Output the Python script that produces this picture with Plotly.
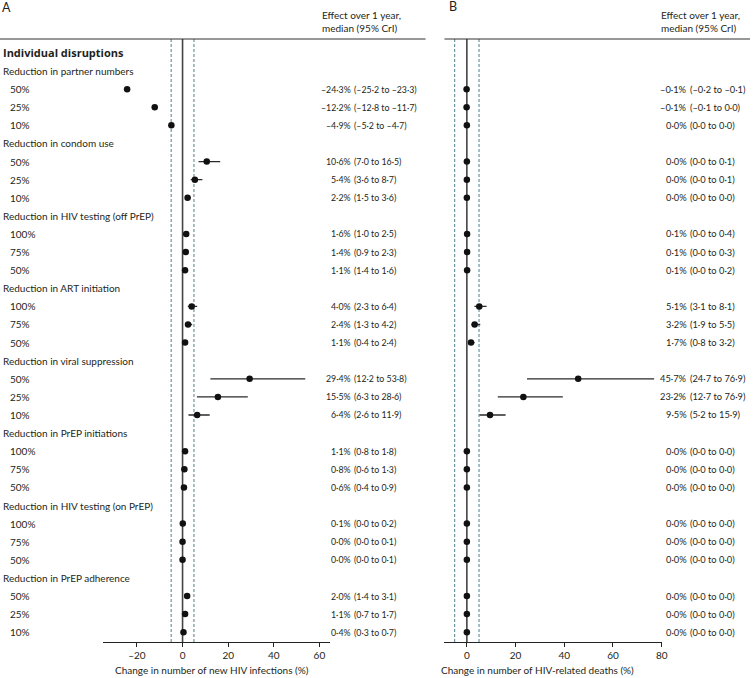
import plotly.graph_objects as go

W, H = 756, 678

# ---------------- data ----------------
groups = [
    "Reduction in partner numbers",
    "Reduction in condom use",
    "Reduction in HIV testing (off PrEP)",
    "Reduction in ART initiation",
    "Reduction in viral suppression",
    "Reduction in PrEP initiations",
    "Reduction in HIV testing (on PrEP)",
    "Reduction in PrEP adherence",
]
levels = [
    ["50%", "25%", "10%"],
    ["50%", "25%", "10%"],
    ["100%", "75%", "50%"],
    ["100%", "75%", "50%"],
    ["50%", "25%", "10%"],
    ["100%", "75%", "50%"],
    ["100%", "75%", "50%"],
    ["50%", "25%", "10%"],
]

# Panel A: change in new HIV infections (%)
inf_med = [-24.3, -12.2, -4.9, 10.6, 5.4, 2.2, 1.6, 1.4, 1.1, 4.0, 2.4, 1.1,
           29.4, 15.5, 6.4, 1.1, 0.8, 0.6, 0.1, 0.0, 0.0, 2.0, 1.1, 0.4]
inf_lo = [-25.2, -12.8, -5.2, 7.0, 3.6, 1.5, 1.0, 0.9, 0.8, 2.3, 1.3, 0.4,
          12.2, 6.3, 2.6, 0.8, 0.6, 0.4, 0.0, 0.0, 0.0, 1.4, 0.7, 0.3]
inf_hi = [-23.3, -11.7, -4.7, 16.5, 8.7, 3.6, 2.5, 2.3, 1.6, 6.4, 4.2, 2.4,
          53.8, 28.6, 11.9, 1.8, 1.3, 0.9, 0.2, 0.1, 0.1, 3.1, 1.7, 0.7]
inf_med_txt = ["–24·3%", "–12·2%", "–4·9%", "10·6%", "5·4%", "2·2%", "1·6%", "1·4%", "1·1%",
               "4·0%", "2·4%", "1·1%", "29·4%", "15·5%", "6·4%", "1·1%", "0·8%", "0·6%",
               "0·1%", "0·0%", "0·0%", "2·0%", "1·1%", "0·4%"]
inf_cri_txt = ["(–25·2 to –23·3)", "(–12·8 to –11·7)", "(–5·2 to –4·7)", "(7·0 to 16·5)",
               "(3·6 to 8·7)", "(1·5 to 3·6)", "(1·0 to 2·5)", "(0·9 to 2·3)", "(1·4 to 1·6)",
               "(2·3 to 6·4)", "(1·3 to 4·2)", "(0·4 to 2·4)", "(12·2 to 53·8)", "(6·3 to 28·6)",
               "(2·6 to 11·9)", "(0·8 to 1·8)", "(0·6 to 1·3)", "(0·4 to 0·9)", "(0·0 to 0·2)",
               "(0·0 to 0·1)", "(0·0 to 0·1)", "(1·4 to 3·1)", "(0·7 to 1·7)", "(0·3 to 0·7)"]

# Panel B: change in HIV-related deaths (%)
dth_med = [-0.1, -0.1, 0.0, 0.0, 0.0, 0.0, 0.1, 0.1, 0.1, 5.1, 3.2, 1.7,
           45.7, 23.2, 9.5, 0.0, 0.0, 0.0, 0.0, 0.0, 0.0, 0.0, 0.0, 0.0]
dth_lo = [-0.2, -0.1, 0.0, 0.0, 0.0, 0.0, 0.0, 0.0, 0.0, 3.1, 1.9, 0.8,
          24.7, 12.7, 5.2, 0.0, 0.0, 0.0, 0.0, 0.0, 0.0, 0.0, 0.0, 0.0]
dth_hi = [-0.1, 0.0, 0.0, 0.1, 0.1, 0.0, 0.4, 0.3, 0.2, 8.1, 5.5, 3.2,
          76.9, 39.4, 15.9, 0.0, 0.0, 0.0, 0.0, 0.0, 0.0, 0.0, 0.0, 0.0]
dth_med_txt = ["–0·1%", "–0·1%", "0·0%", "0·0%", "0·0%", "0·0%", "0·1%", "0·1%", "0·1%",
               "5·1%", "3·2%", "1·7%", "45·7%", "23·2%", "9·5%", "0·0%", "0·0%", "0·0%",
               "0·0%", "0·0%", "0·0%", "0·0%", "0·0%", "0·0%"]
dth_cri_txt = ["(–0·2 to –0·1)", "(–0·1 to 0·0)", "(0·0 to 0·0)", "(0·0 to 0·1)", "(0·0 to 0·1)",
               "(0·0 to 0·0)", "(0·0 to 0·4)", "(0·0 to 0·3)", "(0·0 to 0·2)", "(3·1 to 8·1)",
               "(1·9 to 5·5)", "(0·8 to 3·2)", "(24·7 to 76·9)", "(12·7 to 76·9)", "(5·2 to 15·9)",
               "(0·0 to 0·0)", "(0·0 to 0·0)", "(0·0 to 0·0)", "(0·0 to 0·0)", "(0·0 to 0·0)",
               "(0·0 to 0·0)", "(0·0 to 0·0)", "(0·0 to 0·0)", "(0·0 to 0·0)"]

ticks_A = [-20, 0, 20, 40, 60]
ticks_A_txt = ["–20", "0", "20", "40", "60"]
ticks_B = [0, 20, 40, 60, 80]
ref_lines = [-5, 5]

# ---------------- layout helpers ----------------
FONT = "Lato"
TXT = "#231f20"
FS = 10


def px(x):
    return x / W


def py(y):
    return 1 - y / H


# row slots: 0 = "Individual disruptions", then header + 3 rows per group
header_slots = [1 + 4 * g for g in range(len(groups))]
row_slots = [2 + 4 * g + k for g in range(len(groups)) for k in range(3)]
row_levels = [lv for grp in levels for lv in grp]

TOP_PX, BOT_PX = 39, 642
Y_TOP_SLOT, Y_BOT_SLOT = -0.77, 32.54

fig = go.Figure()


def add_panel(med, lo, hi, xa, ya):
    xs, ys = [], []
    for l, h, s in zip(lo, hi, row_slots):
        xs += [l, h, None]
        ys += [s, s, None]
    fig.add_trace(go.Scatter(x=xs, y=ys, mode="lines", xaxis=xa, yaxis=ya,
                             line=dict(color="#2a2a2a", width=1.3),
                             hoverinfo="skip", showlegend=False))
    fig.add_trace(go.Scatter(x=med, y=row_slots, mode="markers", xaxis=xa, yaxis=ya,
                             marker=dict(color="#111111", size=6.5),
                             showlegend=False))


add_panel(inf_med, inf_lo, inf_hi, "x", "y")
add_panel(dth_med, dth_lo, dth_hi, "x2", "y2")

shapes = []
for xr, yr in [("x", "y"), ("x2", "y2")]:
    shapes.append(dict(type="line", xref=xr, yref=yr + " domain", x0=0, x1=0, y0=0, y1=1,
                       line=dict(color="#444444", width=1.6), layer="below"))
    for v in ref_lines:
        shapes.append(dict(type="line", xref=xr, yref=yr + " domain", x0=v, x1=v, y0=0, y1=1,
                           line=dict(color="#4f7f90", width=1, dash="3px,2px"), layer="below"))
# top rules
shapes.append(dict(type="line", xref="paper", yref="paper", x0=0, x1=px(429), y0=py(TOP_PX), y1=py(TOP_PX),
                   line=dict(color="#333333", width=1.2)))
shapes.append(dict(type="line", xref="paper", yref="paper", x0=px(448), x1=1, y0=py(TOP_PX), y1=py(TOP_PX),
                   line=dict(color="#333333", width=1.2)))

ann = []


def A(x, y, text, yref="paper", xanchor="left", size=FS, bold=False, color=TXT, family=FONT):
    ann.append(dict(x=x, y=y, xref="paper", yref=yref, text=("<b>%s</b>" % text) if bold else text,
                    showarrow=False, xanchor=xanchor, yanchor="middle", borderpad=0,
                    font=dict(family=family, size=size, color=color)))


# panel letters
A(px(1), py(8), "A", size=12.5)
A(px(452), py(6), "B", size=12.5)

# column headers
for x0 in (324, 665):
    A(px(x0), py(15), "Effect over 1 year,")
    A(px(x0), py(28), "median (95% CrI)")

# left labels
A(px(2), 0, "Individual disruptions", yref="y", bold=True, family="Open Sans", size=11)
for g, s in zip(groups, header_slots):
    A(px(2), s, g, yref="y")
for lv, s in zip(row_levels, row_slots):
    A(px(9), s, lv, yref="y")

# right text columns
for mt, ct, s in zip(inf_med_txt, inf_cri_txt, row_slots):
    A(px(355), s, mt, yref="y", xanchor="right", size=8.8)
    A(px(355.5), s, ct, yref="y", xanchor="left", size=8.8)
for mt, ct, s in zip(dth_med_txt, dth_cri_txt, row_slots):
    A(px(694), s, mt, yref="y", xanchor="right", size=9.3)
    A(px(694.5), s, ct, yref="y", xanchor="left", size=9.3)

# axis titles
A(px(214), py(670), "Change in number of new HIV infections (%)", xanchor="center")
A(px(542), py(670), "Change in number of HIV-related deaths (%)", xanchor="center")

common_x = dict(showline=True, linecolor="#222222", linewidth=1.2, ticks="outside", ticklen=4,
                tickcolor="#222222", showgrid=False, zeroline=False,
                tickfont=dict(family=FONT, size=FS, color=TXT))
common_y = dict(range=[Y_BOT_SLOT, Y_TOP_SLOT], showgrid=False, zeroline=False, showticklabels=False,
                showline=False, ticks="", domain=[py(BOT_PX), py(TOP_PX)])

fig.update_layout(
    width=W, height=H, margin=dict(l=0, r=0, t=0, b=0),
    paper_bgcolor="white", plot_bgcolor="white",
    xaxis=dict(domain=[px(104), px(333)], range=[-34.8, 64.8], tickvals=ticks_A,
               ticktext=ticks_A_txt, anchor="y", **common_x),
    yaxis=dict(anchor="x", **common_y),
    xaxis2=dict(domain=[px(448), px(667)], range=[-9.2, 80], tickvals=ticks_B,
                ticktext=[str(t) for t in ticks_B], anchor="y2", **common_x),
    yaxis2=dict(anchor="x2", **common_y),
    shapes=shapes, annotations=ann,
    font=dict(family=FONT, color=TXT),
)

fig.write_html("out.html", config={"displayModeBar": False})

# remove the default page margin so the figure sits at the window's top-left corner
with open("out.html", encoding="utf-8") as f:
    html = f.read()
html = html.replace("<head>", "<head><style>html,body{margin:0;padding:0;overflow:hidden}</style>", 1)
with open("out.html", "w", encoding="utf-8") as f:
    f.write(html)
